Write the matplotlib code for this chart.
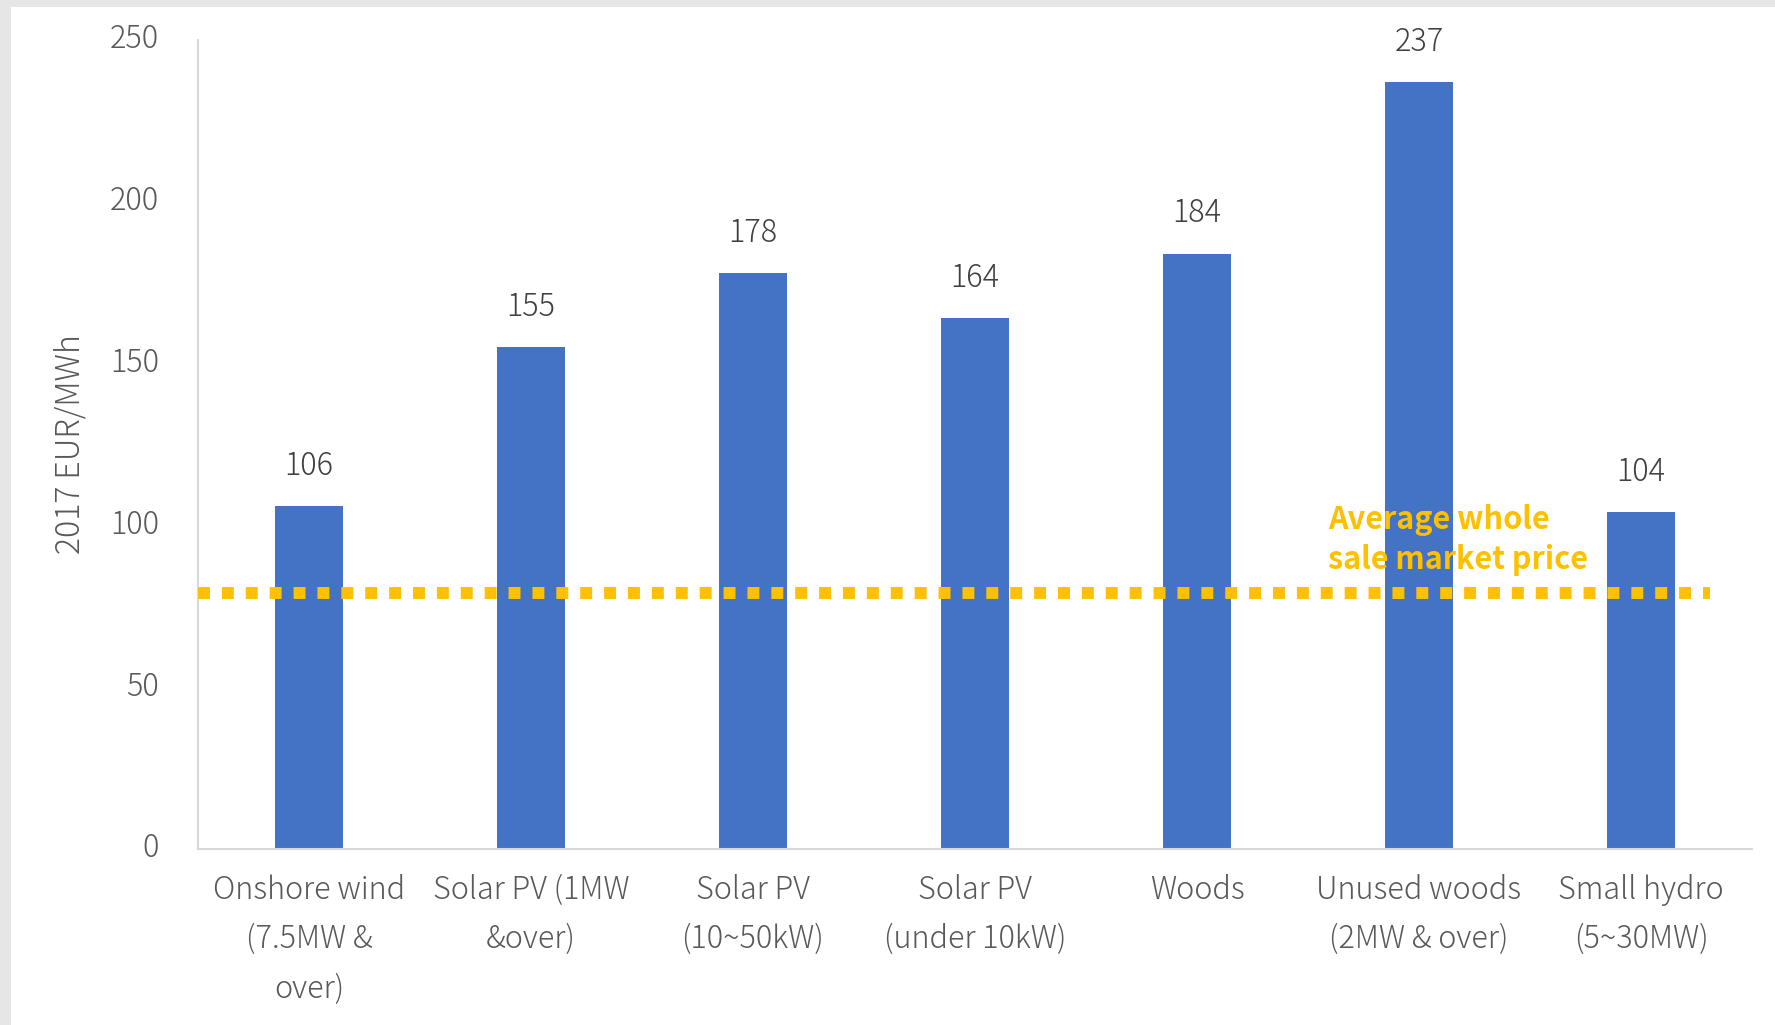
import matplotlib
matplotlib.use('Agg')
import matplotlib.pyplot as plt
from matplotlib.patches import Rectangle
from matplotlib.transforms import ScaledTranslation

categories = ['Onshore wind\n(7.5MW &\nover)', 'Solar PV (1MW\n&over)', 'Solar PV\n(10~50kW)',
              'Solar PV\n(under 10kW)', 'Woods', 'Unused woods\n(2MW & over)', 'Small hydro\n(5~30MW)']
costs = [106, 155, 178, 164, 184, 237, 104]
wholesale_price = 79
yticks = [0, 50, 100, 150, 200, 250]

plt.rcParams['font.family'] = ['Noto Sans CJK JP', 'DejaVu Sans']

fig = plt.figure(figsize=(17.75, 10.25), dpi=100, facecolor='#e6e6e6')
fig.patches.append(Rectangle((11 / 1775, 0), 1, (1025 - 7) / 1025, transform=fig.transFigure,
                             facecolor='white', edgecolor='none', zorder=-10))
ax = fig.add_axes([198 / 1775, 176 / 1025, (1752 - 198) / 1775, (849 - 40) / 1025])
ax.set_facecolor('white')

x = range(len(categories))
ax.bar(x, costs, width=0.31, color='#4472c4', zorder=2)
for i, v in enumerate(costs):
    ax.annotate(str(v), (i, v), xytext=(0, 29), textcoords='offset points',
                ha='center', va='center', fontsize=22, color='#404040', weight='light')

ax.plot([-0.5, 6.31], [wholesale_price, wholesale_price], color='#ffc000', lw=8.6,
        linestyle=(0, (1, 1)), zorder=3)
ax.text(4.59, 95.5, 'Average whole\nsale market price', color='#ffc000', fontsize=22,
        weight='bold', ha='left', va='center', linespacing=1.35, zorder=4)

ax.set_xlim(-0.5, 6.5)
ax.set_ylim(0, 250)
ax.set_yticks(yticks)
ax.set_xticks(list(x))
ax.set_xticklabels(categories, linespacing=1.7)
ax.tick_params(axis='y', length=0, pad=28, labelsize=22, labelcolor='#595959')
ax.tick_params(axis='x', length=0, pad=18, labelsize=22, labelcolor='#595959')
shift_up = ScaledTranslation(0, 3 / 72, fig.dpi_scale_trans)
for lab in ax.get_yticklabels():
    lab.set_fontweight('light')
    lab.set_transform(lab.get_transform() + shift_up)
for lab in ax.get_xticklabels():
    lab.set_fontweight('light')
for s in ['top', 'right']:
    ax.spines[s].set_visible(False)
ax.spines['left'].set_color('#d9d9d9')
ax.spines['bottom'].set_color('#d9d9d9')
ax.spines['left'].set_linewidth(1.5)
ax.spines['bottom'].set_linewidth(1.5)
ax.set_ylabel('2017 EUR/MWh', fontsize=23, color='#595959', weight='light')
ax.yaxis.set_label_coords(-0.071, 0.5)

fig.savefig('out.png', dpi=100, facecolor=fig.get_facecolor())
